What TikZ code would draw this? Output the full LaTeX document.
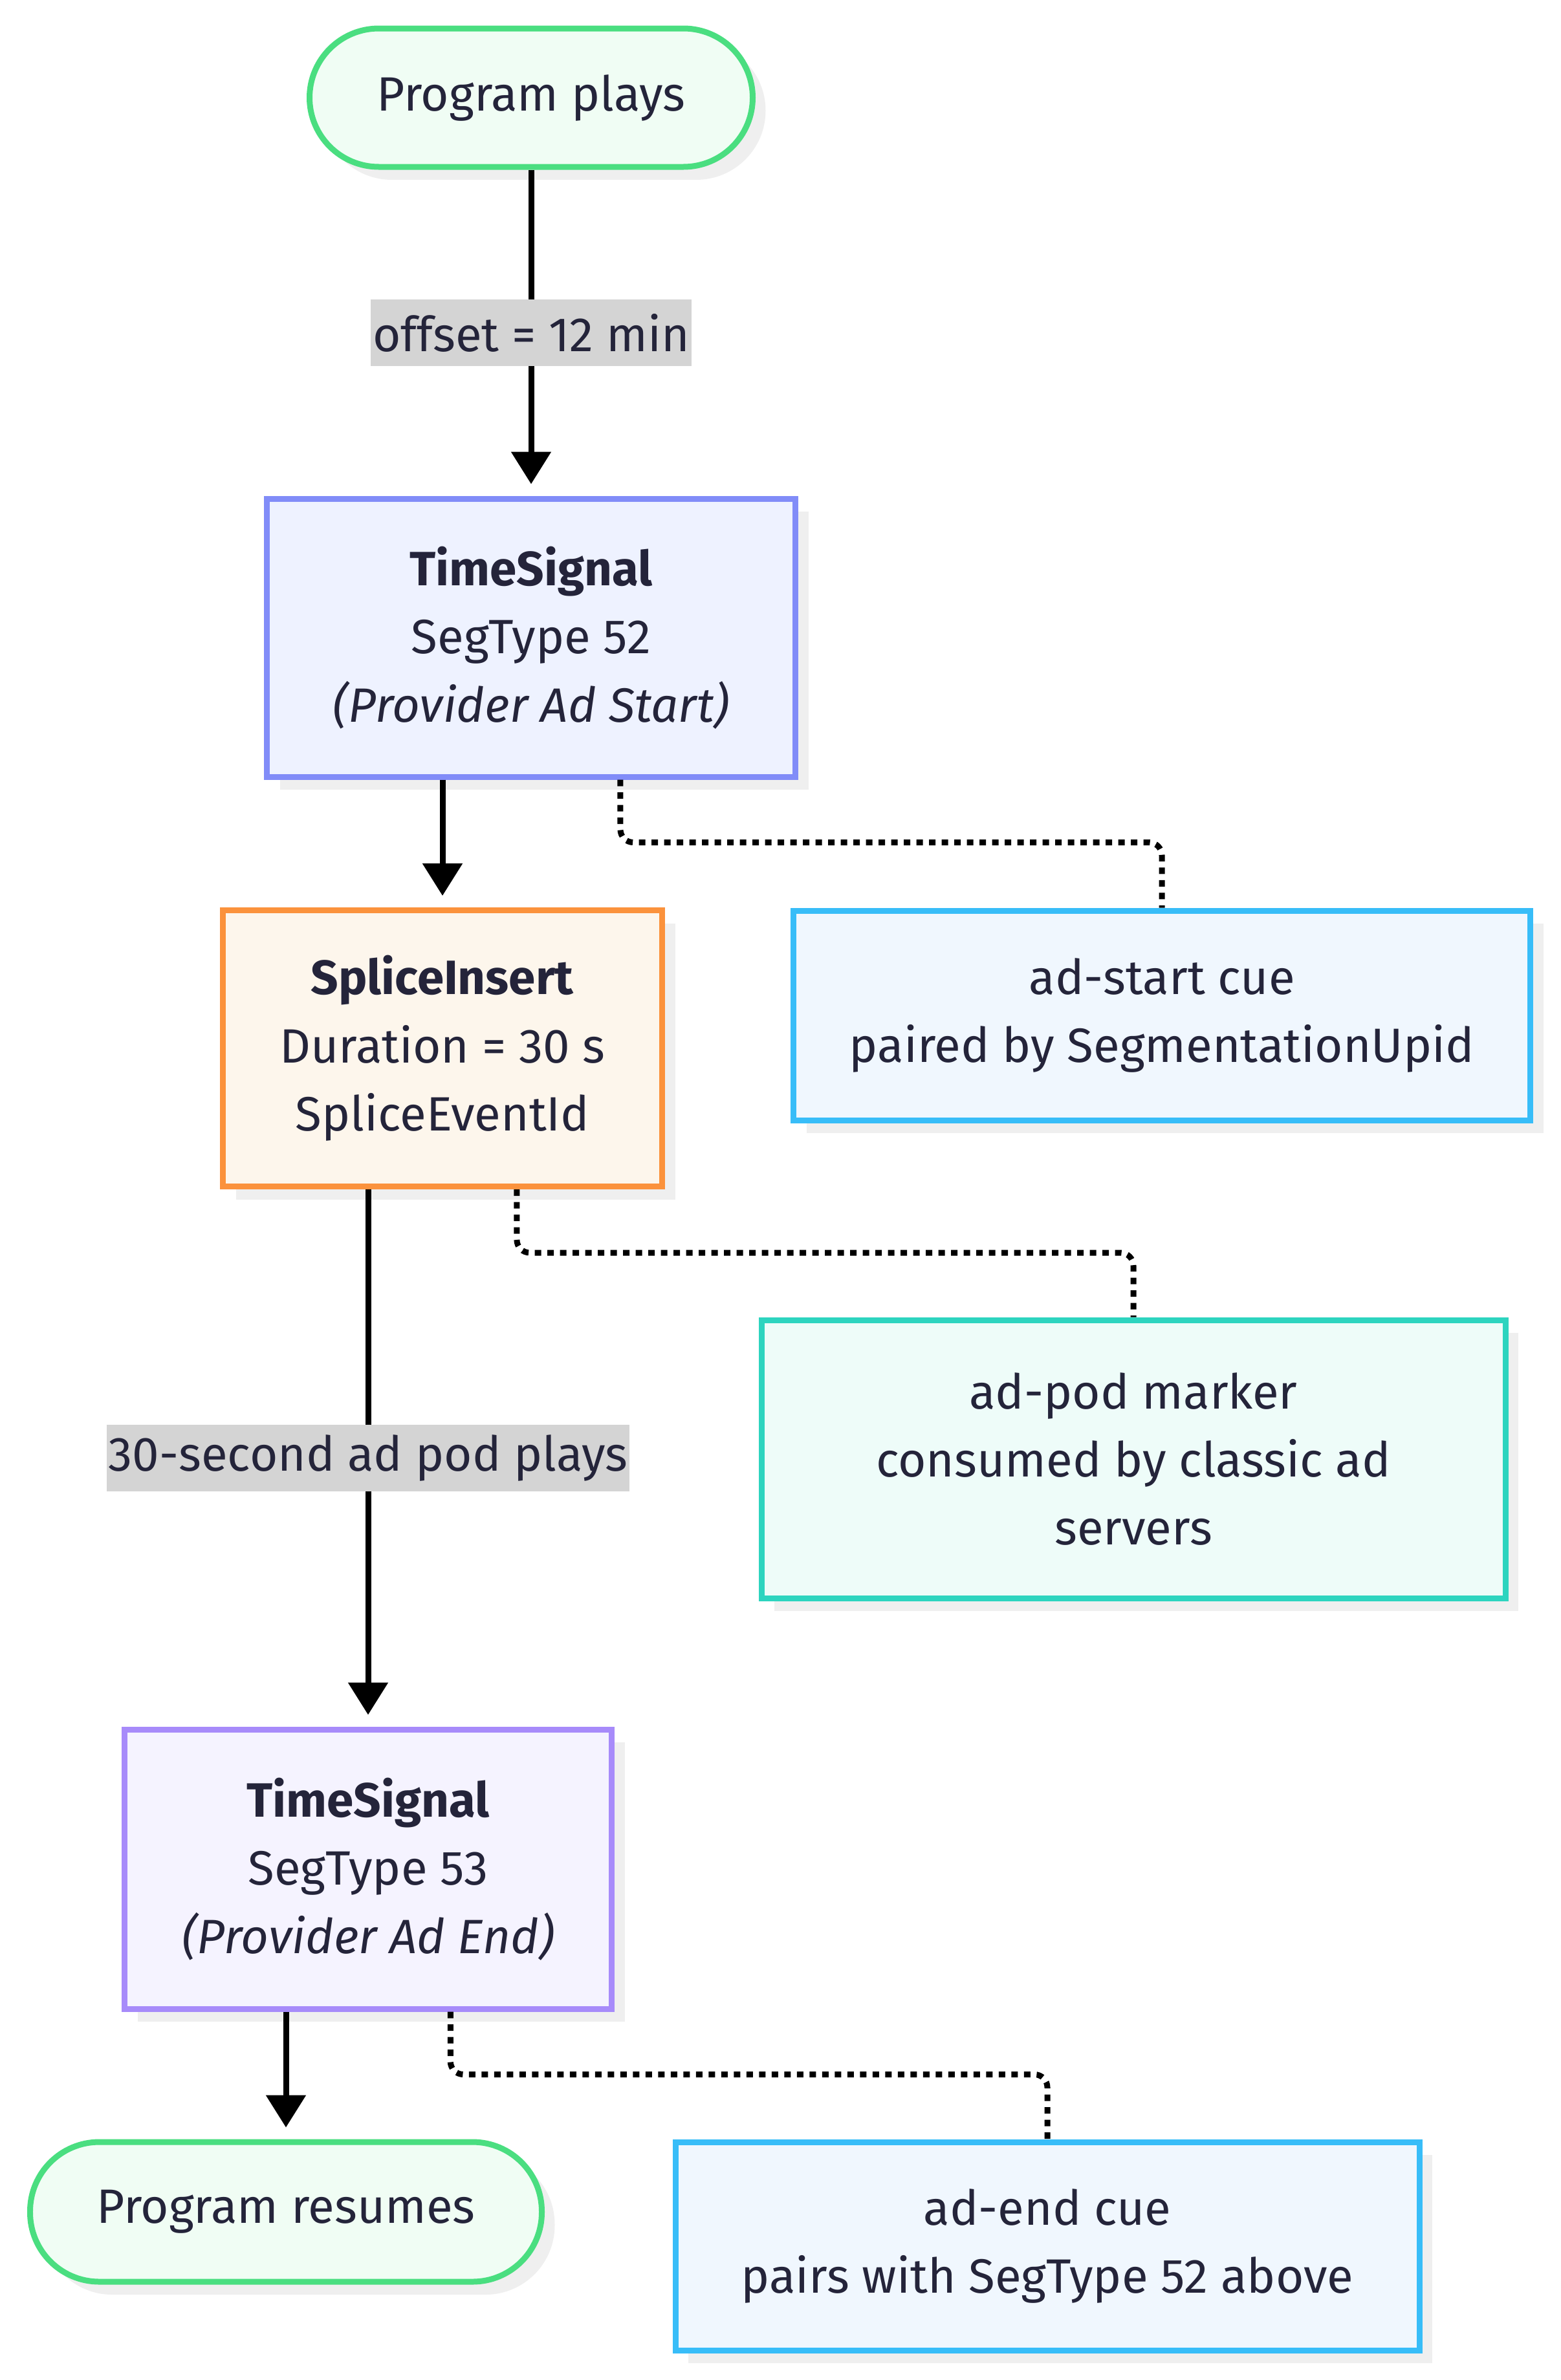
\documentclass[tikz,border=0pt]{standalone}
\usepackage{fontspec}
\setmainfont{Fira Sans}
\usepackage{xcolor}
\usepackage{tikz}
\usetikzlibrary{arrows.meta, calc, shadows}

\definecolor{ink}{HTML}{24243A}
\definecolor{shade}{HTML}{EFEFEF}
\definecolor{tagbg}{HTML}{D4D4D4}
\definecolor{greenline}{HTML}{4ADE80}
\definecolor{greenfill}{HTML}{F0FDF4}
\definecolor{indigoline}{HTML}{818CF8}
\definecolor{indigofill}{HTML}{EEF2FF}
\definecolor{orangeline}{HTML}{FB923C}
\definecolor{orangefill}{HTML}{FDF6EC}
\definecolor{skyline}{HTML}{38BDF8}
\definecolor{skyfill}{HTML}{F0F7FE}
\definecolor{tealline}{HTML}{2DD4BF}
\definecolor{tealfill}{HTML}{EEFCF9}
\definecolor{violetline}{HTML}{A78BFA}
\definecolor{violetfill}{HTML}{F5F3FF}

\begin{document}
\begin{tikzpicture}[
    kotak/.style={draw, line width=0.09cm, align=center, text=ink,
                  font=\fontsize{21.2pt}{30pt}\selectfont,
                  drop shadow={shadow xshift=0.2cm, shadow yshift=-0.2cm, fill=shade, opacity=1}},
    ujung/.style={kotak, rounded corners=1.07cm},
    panah/.style={-{Triangle[length=0.5cm, width=0.6cm]}, line width=0.09cm, shorten >=0.18cm},
    tautan/.style={line width=0.09cm, dash pattern=on 0.1cm off 0.095cm, rounded corners=0.2cm},
    tag/.style={fill=tagbg, text=ink, inner xsep=0.03cm, inner ysep=0cm, minimum height=1.03cm,
                font=\fontsize{21.2pt}{30pt}\selectfont}
  ]
    \useasboundingbox (0,0) rectangle (24.12,-36.80);

    % main chain
    \node[ujung, fill=greenfill, draw=greenline, minimum width=6.85cm, minimum height=2.14cm]
      (plays) at (8.21,-1.51) {Program plays};
    \node[kotak, fill=indigofill, draw=indigoline, minimum width=8.17cm, minimum height=4.30cm]
      (ts52) at (8.21,-9.86) {\textbf{TimeSignal}\\SegType 52\\\textit{(Provider Ad Start)}};
    \node[kotak, fill=orangefill, draw=orangeline, minimum width=6.79cm, minimum height=4.27cm]
      (splice) at (6.84,-16.21) {\textbf{SpliceInsert}\\Duration = 30 s\\SpliceEventId};
    \node[kotak, fill=violetfill, draw=violetline, minimum width=7.53cm, minimum height=4.32cm]
      (ts53) at (5.69,-28.90) {\textbf{TimeSignal}\\SegType 53\\\textit{(Provider Ad End)}};
    \node[ujung, fill=greenfill, draw=greenline, minimum width=7.91cm, minimum height=2.16cm]
      (resumes) at (4.42,-34.20) {Program resumes};

    % side notes
    \node[kotak, fill=skyfill, draw=skyline, minimum width=11.39cm, minimum height=3.24cm]
      (adstart) at (17.96,-15.70) {ad-start cue\\paired by SegmentationUpid};
    \node[kotak, fill=tealfill, draw=tealline, minimum width=11.50cm, minimum height=4.30cm]
      (adpod) at (17.52,-22.56) {ad-pod marker\\consumed by classic ad\\servers};
    \node[kotak, fill=skyfill, draw=skyline, minimum width=11.50cm, minimum height=3.22cm]
      (adend) at (16.19,-34.73) {ad-end cue\\pairs with SegType 52 above};

    \draw[panah] (plays.south) -- node[tag] {offset = 12 min} (ts52.north);
    \draw[panah] (ts52.south -| splice.north) -- (splice.north);
    \draw[panah] (splice.south -| ts53.north) -- node[tag] {30-second ad pod plays} (ts53.north);
    \draw[panah] (ts53.south -| resumes.north) -- (resumes.north);

    \draw[tautan] ($(ts52.south west)!0.667!(ts52.south east)$) -- ++(0,-0.97) -| (adstart.north);
    \draw[tautan] ($(splice.south west)!0.667!(splice.south east)$) -- ++(0,-0.98) -| (adpod.north);
    \draw[tautan] ($(ts53.south west)!0.667!(ts53.south east)$) -- ++(0,-0.97) -| (adend.north);
  \end{tikzpicture}
\end{document}
